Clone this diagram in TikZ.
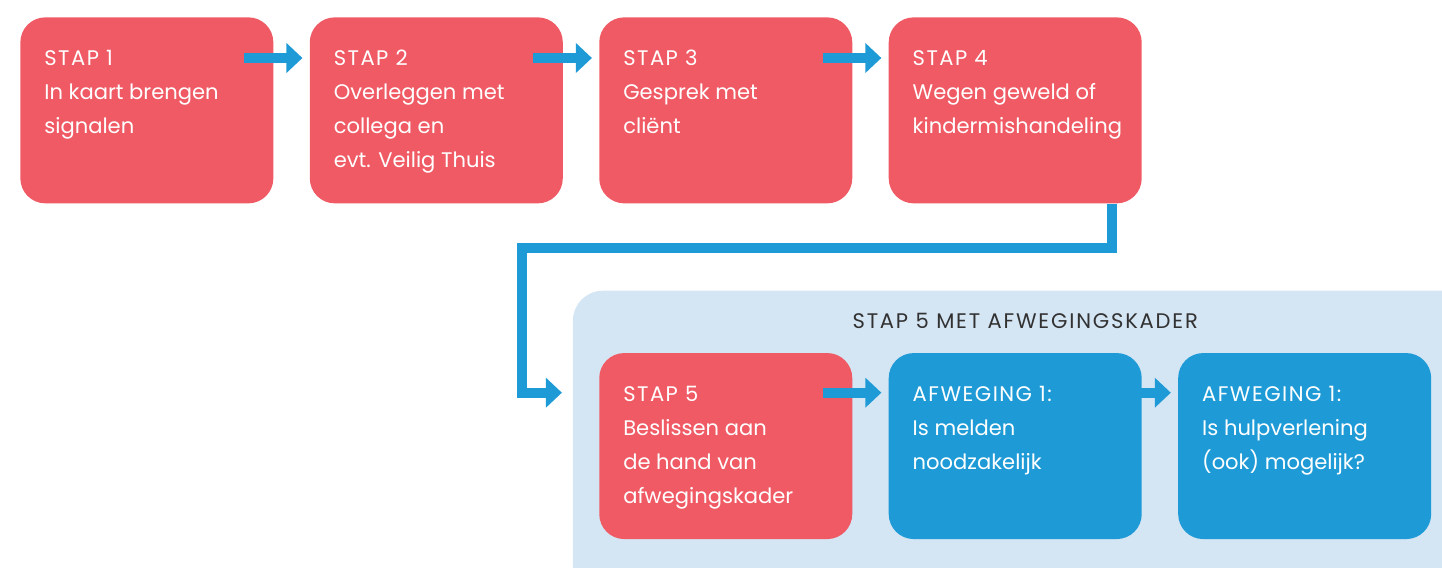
\documentclass[tikz,border=0pt]{standalone}
\usepackage{fontspec}
\setmainfont{Poppins}
\usetikzlibrary{positioning,calc,arrows.meta,backgrounds}
\definecolor{stapred}{RGB}{240,90,100}
\definecolor{stapblue}{RGB}{30,155,215}
\definecolor{kaderblue}{RGB}{212,229,244}
\definecolor{titlegray}{RGB}{50,50,50}
\newcommand{\wide}[1]{{\addfontfeature{LetterSpace=7}#1}}

\begin{document}
\begin{tikzpicture}[node distance=0.715cm,
  box/.style={rectangle,rounded corners=0.5cm,minimum width=5.06cm,minimum height=3.72cm,inner sep=0pt},
  stapbox/.style={box,fill=stapred},
  afwbox/.style={box,fill=stapblue},
  boxtext/.style={anchor=north west,inner sep=0pt,align=left,text=white,font=\fontsize{12}{19.3}\selectfont},
  flow/.style={draw=stapblue,line width=0.2cm,-{Triangle[length=0.32cm,width=0.58cm]}}]
\useasboundingbox (0,0) rectangle (28.84,-11.34);

\node[stapbox,anchor=north west] (s1) at (0.4,-0.34) {};
\node[stapbox,right=of s1] (s2) {};
\node[stapbox,right=of s2] (s3) {};
\node[stapbox,right=of s3] (s4) {};
\node[stapbox,below=2.98cm of s3] (s5) {};
\node[afwbox,right=of s5] (a1) {};
\node[afwbox,right=of a1] (a2) {};

\node[boxtext] (t1) at ($(s1.north west)+(0.48,-0.66)$) {\wide{STAP 1}\\In kaart brengen\\signalen};
\node[boxtext] (t2) at ($(s2.north west)+(0.48,-0.66)$) {\wide{STAP 2}\\Overleggen met\\collega en\\evt. Veilig Thuis};
\node[boxtext] (t3) at ($(s3.north west)+(0.48,-0.66)$) {\wide{STAP 3}\\Gesprek met\\cliënt};
\node[boxtext] (t4) at ($(s4.north west)+(0.48,-0.66)$) {\wide{STAP 4}\\Wegen geweld of\\kindermishandeling};
\node[boxtext] (t5) at ($(s5.north west)+(0.48,-0.66)$) {\wide{STAP 5}\\Beslissen aan\\de hand van\\afwegingskader};
\node[boxtext] (t6) at ($(a1.north west)+(0.48,-0.66)$) {\wide{AFWEGING 1:}\\Is melden\\noodzakelijk};
\node[boxtext] (t7) at ($(a2.north west)+(0.48,-0.66)$) {\wide{AFWEGING 1:}\\Is hulpverlening\\(ook) mogelijk?};

\node[text=titlegray,font=\fontsize{12}{14}\selectfont] (kader) at ($(a1.north)+(0.2,0.64)$) {{\addfontfeature{LetterSpace=8.5}STAP 5 MET AFWEGINGSKADER}};

\begin{scope}[on background layer]
\fill[kaderblue,rounded corners=0.6cm] ($(s5.north west)+(-0.52,1.24)$) rectangle (30,-12.5);
\end{scope}

% arrows between the steps
\draw[flow] ($(s1.north east)+(-0.6,-0.82)$) -- ($(s2.north west)+(-0.14,-0.82)$);
\draw[flow] ($(s2.north east)+(-0.6,-0.82)$) -- ($(s3.north west)+(-0.14,-0.82)$);
\draw[flow] ($(s3.north east)+(-0.6,-0.82)$) -- ($(s4.north west)+(-0.14,-0.82)$);
\draw[flow] ($(s5.north east)+(-0.6,-0.8)$) -- ($(a1.north west)+(-0.14,-0.8)$);
\draw[flow] ($(a1.north east)+(-0.6,-0.8)$) -- ($(a2.north west)+(-0.14,-0.8)$);

% from stap 4 down to stap 5
\coordinate (d1) at ($(s4.south east)+(-0.6,0)$);
\coordinate (d2) at ($(d1)+(0,-0.88)$);
\coordinate (d3) at ($(s5.north west)+(-0.74,-0.8)$);
\draw[flow,line join=miter] (d1) -- (d2) -| ($(d3)+(-0.8,0)$) -- (d3);

\end{tikzpicture}
\end{document}
